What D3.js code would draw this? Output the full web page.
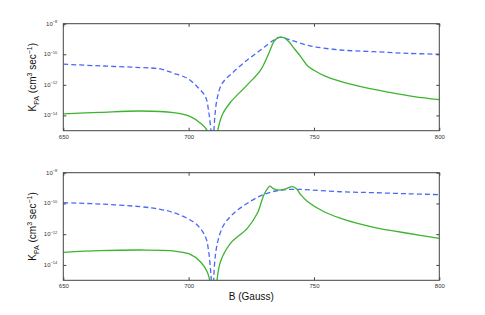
<!DOCTYPE html>
<html>
<head>
<meta charset="utf-8">
<script src="https://cdn.jsdelivr.net/npm/d3@7"></script>
<style>
  body { margin: 0; background: #fff; }
  svg { font-family: "Liberation Sans", Arial, sans-serif; }
  .frame { fill: none; stroke: #444; stroke-width: 1; }
  .tick line { stroke: #444; }
</style>
</head>
<body>
<svg width="485" height="315"></svg>
<script>
// log10 of K_PA; values below -15 run off the bottom of the axis
var topBlueB   = [650, 664.7, 680.7, 688.7, 694, 699.4, 703.4, 706.7, 708, 708.9, 709.7, 710.3, 711.4, 713.4, 718, 723.4, 728.7, 734, 736.5, 740.7, 748.7, 760.7, 773.9, 787.4, 800];
var topBlueK   = [-10.65, -10.76, -10.87, -10.96, -11.24, -11.57, -12.12, -12.77, -13.75, -15.0, -16.5, -14.4, -12.88, -11.9, -11.14, -10.37, -9.72, -9.07, -8.89, -9.07, -9.46, -9.72, -9.83, -9.94, -10.0];
var topGreenB  = [650, 664.7, 680.7, 694, 700.7, 704.7, 707.4, 708.3, 710.8, 711.6, 713.4, 716.7, 723.4, 728.7, 732, 734, 735.6, 736.8, 738, 740, 742, 744.7, 747.4, 750, 754, 756.7, 767.4, 780.7, 790, 800];
var topGreenK  = [-13.9, -13.8, -13.71, -13.82, -14.08, -14.51, -15.0, -16, -16, -15.0, -13.97, -13.14, -12.0, -11.03, -9.93, -9.18, -8.91, -8.88, -8.91, -9.18, -9.6, -10.15, -10.75, -11.05, -11.4, -11.57, -12.07, -12.51, -12.77, -12.97];

var botBlueB   = [650, 664.7, 680.7, 688.7, 694, 699.4, 703.4, 706.7, 708, 708.9, 709.7, 710.3, 711.6, 714, 718, 723.4, 730, 736.7, 743, 746, 760.7, 773.9, 787.4, 800];
var botBlueK   = [-9.95, -10.04, -10.21, -10.38, -10.6, -10.97, -11.4, -12.16, -13.14, -14.66, -16.5, -14.0, -12.49, -11.4, -10.64, -9.99, -9.41, -9.13, -9.08, -9.1, -9.24, -9.3, -9.37, -9.43];
var botGreenB  = [650, 664.7, 680.7, 694, 700.7, 704.7, 707.4, 708.7, 709.4, 710.5, 711.3, 712.7, 716.7, 723.4, 727.4, 730, 731.6, 732.4, 734, 736.5, 739, 741.4, 743, 744.7, 747.4, 754, 760.7, 767.4, 773.9, 787.4, 800];
var botGreenK  = [-13.18, -13.07, -13.03, -13.09, -13.31, -13.79, -14.44, -15.2, -16, -16, -15.0, -13.79, -12.6, -11.62, -10.64, -9.45, -9.0, -8.88, -9.05, -9.13, -9.03, -8.9, -9.05, -9.43, -9.87, -10.54, -10.97, -11.3, -11.55, -11.94, -12.27];

var xTicks = [650, 700, 750, 800];
var yTickExp = [-8, -10, -12, -14];

var svg = d3.select("svg");
var left = 63.3, right = 439.3;
var panels = [
  {top: 23.7, bottom: 130.7, blueB: topBlueB, blueK: topBlueK, greenB: topGreenB, greenK: topGreenK},
  {top: 172.7, bottom: 280.3, blueB: botBlueB, blueK: botBlueK, greenB: botGreenB, greenK: botGreenK}
];

var x = d3.scaleLinear().domain([650, 800]).range([left, right]);

function zip(bs, ks) {
  return bs.map(function(b, i) { return {b: b, k: Math.pow(10, ks[i])}; });
}

panels.forEach(function(p, i) {
  var y = d3.scaleLog().domain([1e-15, 1e-8]).range([p.bottom, p.top]);
  var g = svg.append("g");

  g.append("clipPath").attr("id", "clip" + i)
    .append("rect")
    .attr("x", left).attr("y", p.top)
    .attr("width", right - left).attr("height", p.bottom - p.top);

  var line = d3.line()
    .x(function(d) { return x(d.b); })
    .y(function(d) { return y(Math.max(d.k, 1e-17)); })
    .curve(d3.curveCatmullRom.alpha(0.5));

  g.append("path")
    .attr("clip-path", "url(#clip" + i + ")")
    .attr("d", line(zip(p.blueB, p.blueK)))
    .style("fill", "none")
    .style("stroke", "#4a68f5")
    .style("stroke-width", 1.3)
    .style("stroke-dasharray", "5,3");

  g.append("path")
    .attr("clip-path", "url(#clip" + i + ")")
    .attr("d", line(zip(p.greenB, p.greenK)))
    .style("fill", "none")
    .style("stroke", "#3cb42e")
    .style("stroke-width", 1.3);

  // inward ticks on all four sides
  var xb = d3.axisBottom(x).tickValues(xTicks).tickSize(-3).tickFormat(d3.format("d"));
  var gx = g.append("g").attr("transform", "translate(0," + p.bottom + ")").call(xb);
  gx.select(".domain").remove();
  gx.selectAll("text").attr("font-size", 6).attr("fill", "#333").attr("dy", "0.5em").attr("y", 5);
  var gxt = g.append("g").attr("transform", "translate(0," + p.top + ")")
    .call(d3.axisTop(x).tickValues(xTicks).tickSize(-3).tickFormat(""));
  gxt.select(".domain").remove();

  var yVals = yTickExp.map(function(e) { return Math.pow(10, e); });
  var gy = g.append("g").attr("transform", "translate(" + left + ",0)")
    .call(d3.axisLeft(y).tickValues(yVals).tickSize(-3).tickFormat(""));
  gy.select(".domain").remove();
  var gyr = g.append("g").attr("transform", "translate(" + right + ",0)")
    .call(d3.axisRight(y).tickValues(yVals).tickSize(-3).tickFormat(""));
  gyr.select(".domain").remove();

  yTickExp.forEach(function(e) {
    var t = g.append("text")
      .attr("x", left - 6)
      .attr("y", y(Math.pow(10, e)) + 2)
      .attr("text-anchor", "end")
      .attr("font-size", 6)
      .attr("fill", "#333");
    t.append("tspan").text("10");
    t.append("tspan").attr("font-size", 4).attr("dy", -2.5).text("\u2212" + (-e));
  });

  g.append("rect").attr("class", "frame")
    .attr("x", left).attr("y", p.top)
    .attr("width", right - left).attr("height", p.bottom - p.top);

  var lab = g.append("text")
    .attr("transform", "translate(36," + ((p.top + p.bottom) / 2) + ") rotate(-90)")
    .attr("text-anchor", "middle")
    .attr("font-size", 10)
    .attr("fill", "#111");
  lab.append("tspan").text("K");
  lab.append("tspan").attr("font-size", 7).attr("dy", 2.5).text("PA");
  lab.append("tspan").attr("dy", -2.5).text(" (cm");
  lab.append("tspan").attr("font-size", 7).attr("dy", -4).text("3");
  lab.append("tspan").attr("dy", 4).text(" sec");
  lab.append("tspan").attr("font-size", 7).attr("dy", -4).text("\u22121");
  lab.append("tspan").attr("dy", 4).text(")");
});

svg.append("text")
  .attr("x", x(725))
  .attr("y", 299.5)
  .attr("text-anchor", "middle")
  .attr("font-size", 10)
  .attr("fill", "#111")
  .text("B (Gauss)");
</script>
</body>
</html>
